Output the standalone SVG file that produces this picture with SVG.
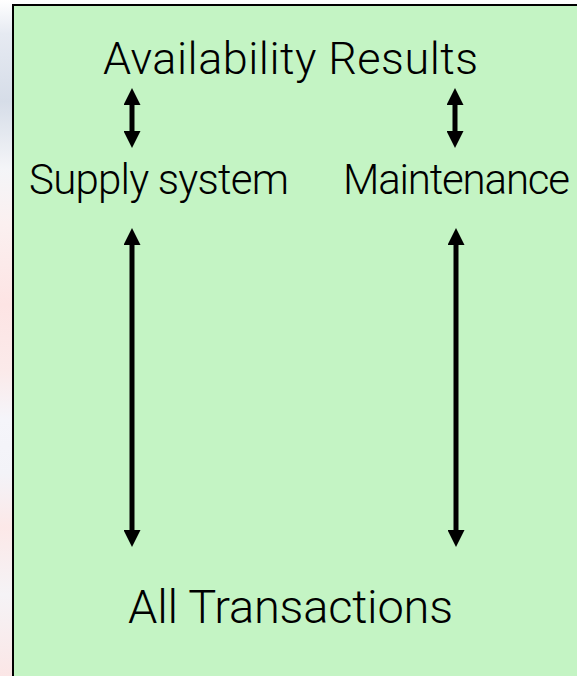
<svg xmlns="http://www.w3.org/2000/svg" width="577" height="676" viewBox="0 0 577 676">
  <defs>
    <linearGradient id="bg" x1="0" y1="0" x2="0" y2="1">
      <stop offset="0" stop-color="#ffffff"/>
      <stop offset="0.05" stop-color="#e6eaf2"/>
      <stop offset="0.15" stop-color="#d6dde8"/>
      <stop offset="0.25" stop-color="#f4f5f8"/>
      <stop offset="0.33" stop-color="#fbf0f0"/>
      <stop offset="0.45" stop-color="#fde4e4"/>
      <stop offset="0.55" stop-color="#fbeaea"/>
      <stop offset="0.62" stop-color="#f5f5fa"/>
      <stop offset="0.7" stop-color="#f3f3f8"/>
      <stop offset="0.78" stop-color="#fce8e8"/>
      <stop offset="0.88" stop-color="#f5f3f6"/>
      <stop offset="1" stop-color="#fbe6e6"/>
    </linearGradient>
    <marker id="head" markerUnits="userSpaceOnUse" markerWidth="17" markerHeight="17" refX="2" refY="8.5" orient="auto-start-reverse" viewBox="0 0 17 17">
      <path d="M0,0 L17,8.5 L0,17 Z" fill="#000"/>
    </marker>
  </defs>
  <style>
    .lbl { font-family: Roboto, "Liberation Sans", Arial, sans-serif; font-weight: 300; fill: #000; text-anchor: middle; }
    .arr { stroke: #000; stroke-width: 5; fill: none; marker-start: url(#head); marker-end: url(#head); }
  </style>
  <rect x="0" y="0" width="577" height="676" fill="url(#bg)"/>
  <rect id="frame" x="13" y="5" width="570" height="680" fill="#c4f4c4" stroke="#000" stroke-width="2"/>
  <g id="availability-results"><text class="lbl" x="290.5" y="74" font-size="45" textLength="375">Availability Results</text></g>
  <g id="supply-system"><text class="lbl" x="159" y="194" font-size="42" textLength="260">Supply system</text></g>
  <g id="maintenance"><text class="lbl" x="456.5" y="194" font-size="42" textLength="227">Maintenance</text></g>
  <g id="all-transactions"><text class="lbl" x="290.5" y="623" font-size="47" textLength="325">All Transactions</text></g>
  <g id="connectors">
    <line class="arr" x1="132" y1="103" x2="132" y2="133"/>
    <line class="arr" x1="455" y1="103" x2="455" y2="133"/>
    <line class="arr" x1="132" y1="243" x2="132" y2="532"/>
    <line class="arr" x1="456" y1="243" x2="456" y2="532"/>
  </g>
</svg>
